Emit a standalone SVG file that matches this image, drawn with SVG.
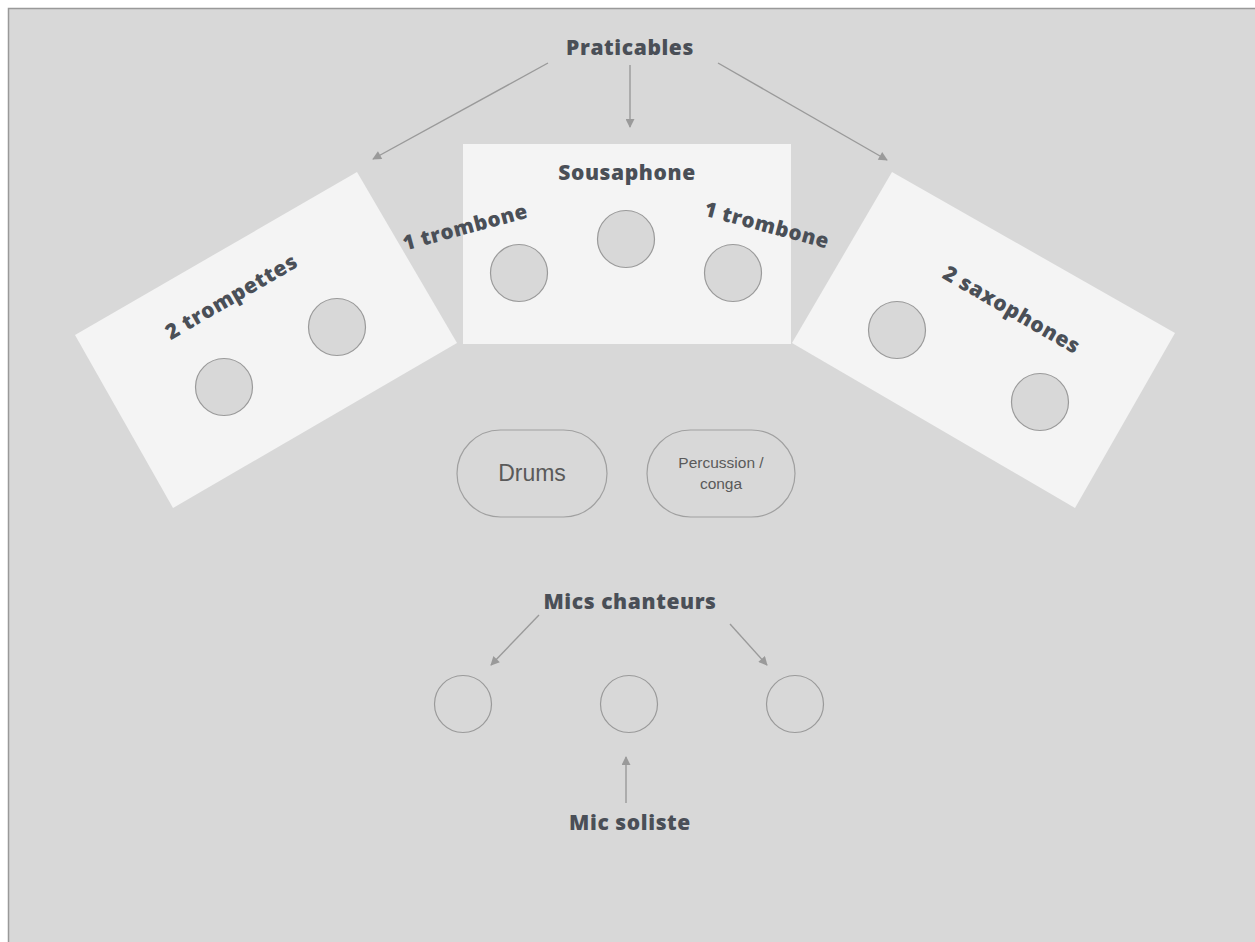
<svg xmlns="http://www.w3.org/2000/svg" width="1255" height="942" viewBox="0 0 1255 942">
<defs>
<style>
.bg{fill:#d8d8d8}
.plat{fill:#f4f4f4}
.seat{fill:#d8d8d8;stroke:#9a9a9a;stroke-width:1.2}
.mic{fill:none;stroke:#9a9a9a;stroke-width:1.2}
.pill{fill:none;stroke:#a0a0a0;stroke-width:1.2}
.lbl{font-family:"Open Sans","Lato","Liberation Sans",sans-serif;font-weight:800;fill:#4a4f57;text-anchor:middle;letter-spacing:0.6px}
.reg{font-family:"Liberation Sans","Arial",sans-serif;fill:#5a5a5a;text-anchor:middle}
.arr{stroke:#9a9a9a;stroke-width:1.4;fill:none;marker-end:url(#ah)}
</style>
<marker id="ah" viewBox="0 0 10 10" refX="9" refY="5" markerWidth="10" markerHeight="9" markerUnits="userSpaceOnUse" orient="auto">
<path d="M0,0 L10,5 L0,10 z" fill="#9a9a9a"/>
</marker>
</defs>
<rect x="0" y="0" width="1255" height="942" fill="#ffffff"/>
<rect class="bg" x="8" y="8" width="1247" height="934"/>
<path d="M8.5,942 L8.5,8.5 L1255,8.5" fill="none" stroke="#999" stroke-width="1.5"/>

<g id="platform-left">
<polygon class="plat" points="357,172 75,335 173,508 457,343"/>
<circle class="seat" cx="224" cy="387" r="28.5"/>
<circle class="seat" cx="337" cy="327" r="28.5"/>
<text class="lbl" font-size="21" transform="translate(235,303) rotate(-30)">2 trompettes</text>
</g>

<g id="platform-right">
<polygon class="plat" points="892,172 1175,333 1075,508 792,343"/>
<circle class="seat" cx="897" cy="330" r="28.5"/>
<circle class="seat" cx="1040" cy="402" r="28.5"/>
<text class="lbl" font-size="21" transform="translate(1008,316) rotate(30)">2 saxophones</text>
</g>

<g id="platform-center">
<rect class="plat" x="463" y="144" width="328" height="200"/>
<circle class="seat" cx="519" cy="273" r="28.5"/>
<circle class="seat" cx="626" cy="239" r="28.5"/>
<circle class="seat" cx="733" cy="273" r="28.5"/>
<text class="lbl" font-size="21" x="627" y="180">Sousaphone</text>
</g>

<g id="label-trombone-left">
<text class="lbl" font-size="20.5" transform="translate(467,234) rotate(-15)">1 trombone</text>
</g>
<g id="label-trombone-right">
<text class="lbl" font-size="20.5" transform="translate(765,232) rotate(15)">1 trombone</text>
</g>

<g id="label-praticables">
<text class="lbl" font-size="21" x="630" y="55">Praticables</text>
</g>

<g id="drums">
<rect class="pill" x="457" y="430" width="150" height="87" rx="43.5"/>
<text class="reg" font-size="23" x="532" y="481">Drums</text>
</g>
<g id="percussion">
<rect class="pill" x="647" y="430" width="148" height="87" rx="43.5"/>
<text class="reg" font-size="15.5" x="721" y="468">Percussion /</text>
<text class="reg" font-size="15.5" x="721" y="489">conga</text>
</g>

<g id="label-mics">
<text class="lbl" font-size="21" x="630" y="609">Mics chanteurs</text>
</g>
<g id="mic-left"><circle class="mic" cx="463" cy="704" r="28.5"/></g>
<g id="mic-center"><circle class="mic" cx="629" cy="704" r="28.5"/></g>
<g id="mic-right"><circle class="mic" cx="795" cy="704" r="28.5"/></g>
<g id="label-soliste">
<text class="lbl" font-size="21" x="630" y="830">Mic soliste</text>
</g>

<g id="connectors">
<line class="arr" x1="548" y1="63" x2="373" y2="159"/>
<line class="arr" x1="630" y1="65" x2="630" y2="127"/>
<line class="arr" x1="718" y1="63" x2="887" y2="160"/>
<line class="arr" x1="539" y1="615" x2="491" y2="665"/>
<line class="arr" x1="730" y1="624" x2="767" y2="665"/>
<line class="arr" x1="626" y1="803" x2="626" y2="757"/>
</g>
</svg>
